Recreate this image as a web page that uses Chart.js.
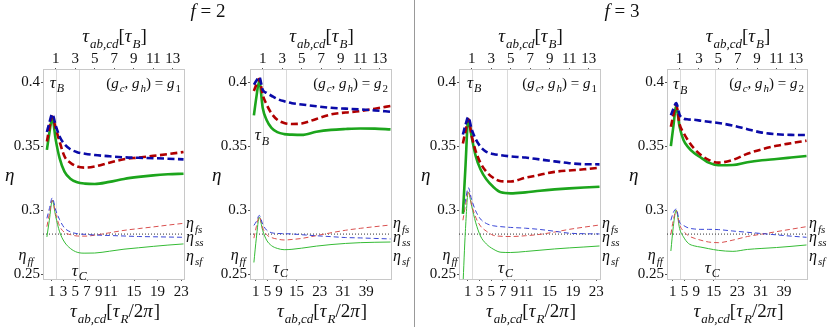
<!DOCTYPE html>
<html>
<head>
<meta charset="utf-8">
<script src="https://cdn.jsdelivr.net/npm/chart.js@4.4.0/dist/chart.umd.min.js"></script>
<style>
  body { margin: 0; background: #fff; width: 830px; height: 327px; position: relative; overflow: hidden; font-family: "Liberation Serif", serif; }
  canvas { position: absolute; top: 0; }
  .ttl { position: absolute; top: 0px; width: 100px; text-align: center; font-size: 19px; color: #111; }
  #sep { position: absolute; left: 414px; top: 0; width: 1px; height: 327px; background: #999; }
</style>
</head>
<body>
<canvas id="c1" width="207" height="327" style="left:0px"></canvas>
<canvas id="c2" width="208" height="327" style="left:207px"></canvas>
<canvas id="c3" width="208" height="327" style="left:415px"></canvas>
<canvas id="c4" width="207" height="327" style="left:623px"></canvas>
<div id="sep"></div>
<div class="ttl" style="left:158px"><i>f</i> = 2</div>
<div class="ttl" style="left:572px"><i>f</i> = 3</div>
<script>
// x in units of tau_B (top axis), y = efficiency eta
const tauGrid = [0.1, 0.35, 0.65, 1.0, 1.4, 1.9, 2.5, 3.2, 4, 5, 6.5, 8, 9.5, 11, 12.5, 14.1];
const topTicks = [1, 3, 5, 7, 9, 11, 13];
const bottomTicksG1 = [1, 3, 5, 7, 9, 11, 15, 19, 23];
const bottomTicksG2 = [1, 5, 9, 15, 23, 31, 39];
const yTicks = [0.25, 0.3, 0.35, 0.4];
const tauB = [1.66, 3.36, 1.67, 3.31];   // tau_B in tau_R/2pi
const tauC = [3.36, 3.36, 4.67, 4.67];   // tau_C in tau_B
const etaSS = 0.2812;

// f = 2, g1
const blueThick1 = [0.361,0.368,0.375,0.366,0.3575,0.3515,0.3475,0.3452,0.3440,0.3430,0.3420,0.3412,0.3408,0.3405,0.3401,0.3396];
const redThick1 = [0.3535,0.364,0.373,0.364,0.3535,0.342,0.337,0.3340,0.3331,0.3340,0.3370,0.3397,0.3410,0.3423,0.3437,0.3453];
const greenThick1 = [0.347,0.360,0.372,0.355,0.3405,0.330,0.3245,0.3217,0.3206,0.3203,0.3220,0.3243,0.3259,0.3271,0.3279,0.3284];
const blueThin1 = [0.2935,0.301,0.3095,0.300,0.2925,0.2860,0.2830,0.2815,0.2810,0.2805,0.2801,0.2797,0.2793,0.2791,0.2789,0.2787];
const redThin1 = [0.287,0.297,0.3075,0.297,0.2875,0.2825,0.2808,0.2797,0.2796,0.2803,0.2822,0.2841,0.2855,0.2868,0.2882,0.2896];
const greenThin1 = [0.279,0.292,0.3075,0.295,0.2830,0.2750,0.2700,0.2670,0.2663,0.2664,0.2678,0.2694,0.2705,0.2716,0.2726,0.2735];

// f = 2, g2
const blueThick2 = [0.398,0.401,0.404,0.394,0.3915,0.3893,0.3868,0.3850,0.3835,0.3825,0.3811,0.3799,0.3792,0.3786,0.3778,0.3768];
const redThick2 = [0.393,0.398,0.4025,0.390,0.3825,0.3755,0.3705,0.3680,0.3672,0.3676,0.3712,0.3747,0.3762,0.3773,0.3792,0.3813];
const greenThick2 = [0.374,0.388,0.401,0.380,0.3703,0.3642,0.3608,0.3593,0.3589,0.3587,0.3611,0.3626,0.3633,0.3637,0.3636,0.3630];
const blueThin2 = [0.288,0.291,0.2958,0.289,0.2843,0.2823,0.2817,0.2815,0.2813,0.2807,0.2799,0.2792,0.2785,0.2782,0.2778,0.2774];
const redThin2 = [0.278,0.287,0.2948,0.286,0.2808,0.2785,0.2773,0.2766,0.2770,0.2778,0.2800,0.2822,0.2842,0.2857,0.2870,0.2883];
const greenThin2 = [0.259,0.278,0.2945,0.284,0.2765,0.2722,0.2700,0.2690,0.2693,0.2702,0.2718,0.2730,0.2739,0.2745,0.2748,0.2750];

// f = 3, g1
const blueThick3 = [0.359,0.366,0.3725,0.363,0.3555,0.3495,0.3455,0.3438,0.3428,0.3419,0.3410,0.3395,0.3380,0.3366,0.3358,0.3357];
const redThick3 = [0.352,0.361,0.371,0.358,0.3463,0.3368,0.3300,0.3252,0.3225,0.3223,0.3252,0.3275,0.3298,0.3309,0.3318,0.3331];
const greenThick3 = [0.297,0.332,0.371,0.357,0.3425,0.3318,0.3240,0.3182,0.3138,0.3130,0.3138,0.3151,0.3161,0.3169,0.3176,0.3182];
const blueThin3 = [0.299,0.307,0.3175,0.308,0.2995,0.2930,0.2895,0.2877,0.2870,0.2864,0.2858,0.2848,0.2834,0.2819,0.2815,0.2813];
const redThin3 = [0.292,0.303,0.3150,0.304,0.2945,0.2875,0.2835,0.2803,0.2795,0.2793,0.2799,0.2810,0.2828,0.2849,0.2866,0.2883];
const greenThin3 = [0.240,0.283,0.3140,0.303,0.2905,0.2797,0.2735,0.2695,0.2670,0.2668,0.2676,0.2686,0.2696,0.2704,0.2711,0.2719];

// f = 3, g2
const blueThick4 = [0.374,0.379,0.3835,0.3745,0.3715,0.3708,0.3705,0.3698,0.3690,0.3680,0.3660,0.3632,0.3605,0.3592,0.3587,0.3586];
const redThick4 = [0.365,0.374,0.382,0.367,0.3605,0.3540,0.3480,0.3430,0.3392,0.3370,0.3392,0.3440,0.3475,0.3502,0.3522,0.3542];
const greenThick4 = [0.350,0.365,0.381,0.365,0.3547,0.3490,0.3445,0.3410,0.3370,0.3350,0.3352,0.3374,0.3389,0.3399,0.3410,0.3422];
const blueThin4 = [0.292,0.298,0.3008,0.2905,0.2880,0.2860,0.2852,0.2849,0.2849,0.2847,0.2836,0.2826,0.2816,0.2806,0.2796,0.2787];
const redThin4 = [0.281,0.292,0.2995,0.2885,0.2835,0.2800,0.2780,0.2764,0.2750,0.2745,0.2765,0.2793,0.2812,0.2831,0.2850,0.2870];
const greenThin4 = [0.268,0.287,0.3000,0.2855,0.2790,0.2740,0.2720,0.2710,0.2698,0.2685,0.2677,0.2692,0.2700,0.2707,0.2716,0.2727];

const FONT = '"Liberation Serif", serif';

function drawRich(ctx, parts, x, y, size, align) {
  // parts: [text, kind]  kind: i italic, r roman, si sub italic, sr sub roman
  const sub = Math.round(size * 0.7);
  const fontOf = k => (k[k.length - 1] === 'i' ? 'italic ' : '') + (k[0] === 's' ? sub : size) + 'px ' + FONT;
  let w = 0;
  parts.forEach(p => { ctx.font = fontOf(p[1]); w += ctx.measureText(p[0]).width; });
  let cx = align === 'right' ? x - w : align === 'center' ? x - w / 2 : x;
  ctx.textAlign = 'left';
  ctx.textBaseline = 'alphabetic';
  parts.forEach(p => {
    ctx.font = fontOf(p[1]);
    ctx.fillText(p[0], cx, y + size * 0.33 + (p[1][0] === 's' ? size * 0.28 : 0));
    cx += ctx.measureText(p[0]).width + (p[1] === 'i' ? 1 : 0);
  });
}

function series(ys, color, width, dash) {
  return {
    data: tauGrid.map((t, i) => ({ x: t, y: ys[i] })),
    borderColor: color, borderWidth: width, borderDash: dash,
    pointRadius: 0, fill: false, cubicInterpolationMode: 'monotone'
  };
}

function makePanel(id, p) {
  const deco = {
    id: 'deco',
    beforeDatasetsDraw(chart) {
      const { ctx, chartArea: a, scales } = chart;
      ctx.save();
      ctx.strokeStyle = '#dadada';
      ctx.lineWidth = 1;
      [1, p.tauC].forEach(v => {
        const px = Math.round(scales.x.getPixelForValue(v)) + 0.5;
        ctx.beginPath(); ctx.moveTo(px, a.top); ctx.lineTo(px, a.bottom); ctx.stroke();
      });
      ctx.strokeStyle = '#c8c8c8';
      ctx.strokeRect(Math.round(a.left) + 0.5, Math.round(a.top) + 0.5, Math.round(a.right - a.left), Math.round(a.bottom - a.top));
      ctx.restore();
    },
    afterDraw(chart) {
      const { ctx, chartArea: a, scales } = chart;
      const X = v => scales.x.getPixelForValue(v), Y = v => scales.y.getPixelForValue(v);
      ctx.save();
      ctx.fillStyle = '#111';
      const mid = (a.left + a.right) / 2;
      drawRich(ctx, [['τ', 'i'], ['ab,cd', 'si'], ['[', 'r'], ['τ', 'i'], ['B', 'si'], [']', 'r']], mid, 36, 19, 'center');
      drawRich(ctx, [['τ', 'i'], ['ab,cd', 'si'], ['[', 'r'], ['τ', 'i'], ['R', 'si'], ['/2', 'r'], ['π', 'i'], [']', 'r']], mid, 311, 19, 'center');
      drawRich(ctx, [['η', 'i']], a.left - 38, 175, 19, 'left');
      drawRich(ctx, [['τ', 'i'], ['B', 'si']], X(p.tauBLab[0]), Y(p.tauBLab[1]), 17, 'left');
      drawRich(ctx, [['τ', 'i'], ['C', 'si']], X(p.tauCLab[0]), Y(p.tauCLab[1]), 17, 'left');
      drawRich(ctx, [['(', 'r'], ['g', 'i'], ['c', 'si'], [', ', 'r'], ['g', 'i'], ['h', 'si'], [') = ', 'r'], ['g', 'i'], [p.g, 'sr']], a.right - 6, Y(0.3995), 15, 'right');
      drawRich(ctx, [['η', 'i'], ['ff', 'si']], X(p.ffX), Y(0.2650), 16, 'right');
      drawRich(ctx, [['η', 'i'], ['fs', 'si']], a.right + 2, Y(0.2900), 16, 'left');
      drawRich(ctx, [['η', 'i'], ['ss', 'si']], a.right + 2, Y(0.2795), 16, 'left');
      drawRich(ctx, [['η', 'i'], ['sf', 'si']], a.right + 2, Y(0.2645), 16, 'left');
      ctx.restore();
    }
  };

  const tickFont = { family: FONT, size: 15 };
  return new Chart(document.getElementById(id), {
    type: 'line',
    data: {
      datasets: [
        series(p.s[0], '#0a0aa8', 2.6, [7, 3.5]),
        series(p.s[1], '#b00000', 2.6, [7, 3.5]),
        series(p.s[2], '#1ca51c', 2.6, []),
        series(p.s[3], '#3a46d6', 1, [5, 3]),
        series(p.s[4], '#d9504f', 1, [5, 3]),
        series(p.s[5], '#35bb35', 1, []),
        {
          data: [{ x: -0.3, y: etaSS }, { x: 14.15, y: etaSS }],
          borderColor: '#333', borderWidth: 1, borderDash: [1, 2], pointRadius: 0
        }
      ]
    },
    options: {
      responsive: false,
      animation: false,
      layout: { padding: { left: 0, right: p.padR, top: 0, bottom: 0 } },
      plugins: { legend: { display: false }, tooltip: { enabled: false } },
      scales: {
        x: {
          type: 'linear', position: 'top', min: -0.3, max: 14.15,
          afterBuildTicks: s => { s.ticks = topTicks.map(v => ({ value: v })); },
          afterFit: s => { s.height = 69; },
          grid: { drawOnChartArea: false, tickLength: 1, color: '#555' },
          border: { display: false },
          ticks: { font: tickFont, color: '#111', padding: 0, autoSkip: false, maxRotation: 0, callback: v => String(v) }
        },
        x2: {
          type: 'linear', position: 'bottom', min: -0.3 * p.tauB, max: 14.15 * p.tauB,
          afterBuildTicks: s => { s.ticks = p.bottomTicks.map(v => ({ value: v })); },
          afterFit: s => { s.height = 48; },
          grid: { drawOnChartArea: false, tickLength: 2, color: '#555' },
          border: { display: false },
          ticks: { font: tickFont, color: '#111', padding: 2, autoSkip: false, maxRotation: 0, callback: v => String(v) }
        },
        y: {
          type: 'linear', position: 'left', min: 0.2461, max: 0.4102,
          afterBuildTicks: s => { s.ticks = yTicks.map(v => ({ value: v })); },
          afterFit: s => { s.width = p.yW; },
          grid: { drawOnChartArea: false, tickLength: 2, color: '#555' },
          border: { display: false },
          ticks: { font: tickFont, color: '#111', padding: 1, callback: v => String(v) }
        }
      }
    },
    plugins: [deco]
  });
}

makePanel('c1', {
  s: [blueThick1, redThick1, greenThick1, blueThin1, redThin1, greenThin1],
  tauB: tauB[0], tauC: tauC[0], bottomTicks: bottomTicksG1, g: '1',
  yW: 43, padR: 23, tauBLab: [0.39, 0.400], tauCLab: [2.65, 0.2531], ffX: -1.36
});
makePanel('c2', {
  s: [blueThick2, redThick2, greenThick2, blueThin2, redThin2, greenThin2],
  tauB: tauB[1], tauC: tauC[1], bottomTicks: bottomTicksG2, g: '2',
  yW: 43, padR: 24, tauBLab: [0.18, 0.359], tauCLab: [2.05, 0.2555], ffX: -0.84
});
makePanel('c3', {
  s: [blueThick3, redThick3, greenThick3, blueThin3, redThin3, greenThin3],
  tauB: tauB[2], tauC: tauC[2], bottomTicks: bottomTicksG1, g: '1',
  yW: 44, padR: 23, tauBLab: [0.52, 0.400], tauCLab: [3.7, 0.2555], ffX: -0.54
});
makePanel('c4', {
  s: [blueThick4, redThick4, greenThick4, blueThin4, redThin4, greenThin4],
  tauB: tauB[3], tauC: tauC[3], bottomTicks: bottomTicksG2, g: '2',
  yW: 44, padR: 23, tauBLab: [0.32, 0.399], tauCLab: [3.6, 0.2555], ffX: -0.84
});
</script>
</body>
</html>
